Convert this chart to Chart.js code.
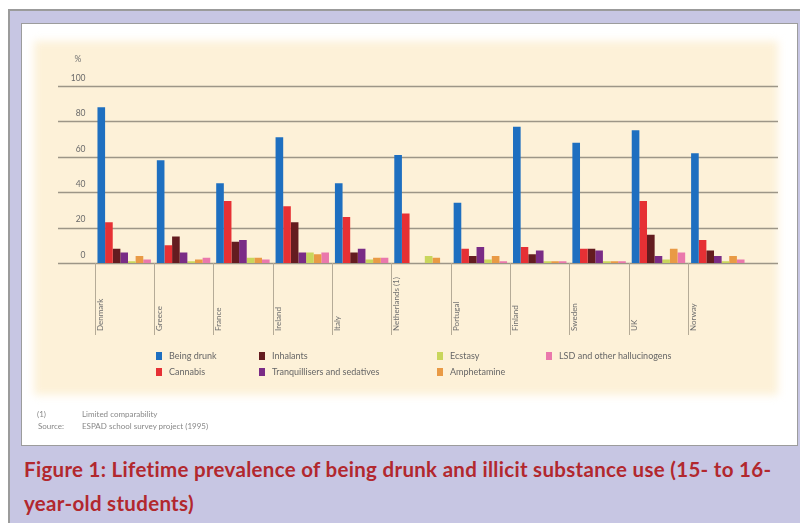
<!DOCTYPE html>
<html>
<head>
<meta charset="utf-8">
<script src="https://cdn.jsdelivr.net/npm/chart.js@4.4.1/dist/chart.umd.min.js"></script>
<style>
  html, body { margin: 0; padding: 0; background: #fff; }
  body { width: 800px; height: 523px; overflow: hidden; position: relative; font-family: Lato, "DejaVu Sans", sans-serif; }
  #frame { position: absolute; left: 8px; top: 9px; width: 790px; height: 512px; background: #c7c6e3;
           border-top: 2px solid #9b9b9b; border-left: 2px solid #9b9b9b; }
  #panel { position: absolute; left: 21px; top: 23px; width: 775px; height: 421px; background: #fff; border: 1px solid #9c9c9c; }
  #cream { position: absolute; left: 34px; top: 41px; width: 744px; height: 354px; background: #fdf1d8; filter: blur(4px); }
  #chart { position: absolute; left: 0; top: 0; filter: blur(0.5px); }
  #legend { position: absolute; left: 0; top: 0; filter: blur(0.5px); }
  .item { position: absolute; font-size: 9px; color: #666; white-space: nowrap; line-height: 10px; }
  .item i { position: absolute; left: 0; top: 1px; width: 6px; height: 8px; }
  .item span { position: absolute; left: 13px; top: 0; }
  #notes { position: absolute; left: 0; top: 0; font-size: 8px; color: #888; filter: blur(0.5px); }
  #notes div { position: absolute; white-space: nowrap; }
  #caption { position: absolute; left: 24px; top: 452px; width: 776px; font-weight: bold; font-size: 20.5px;
             letter-spacing: 0.3px; line-height: 34px; color: #b2282e; white-space: nowrap; }
</style>
</head>
<body>
<div id="frame"></div>
<div id="panel"></div>
<div id="cream"></div>
<canvas id="chart" width="800" height="400"></canvas>
<div id="legend"></div>
<div id="notes">
  <div style="left:37px; top:409px;">(1)</div>
  <div style="left:82px; top:409px;">Limited comparability</div>
  <div style="left:38px; top:421px;">Source:</div>
  <div style="left:82px; top:421px;">ESPAD school survey project (1995)</div>
</div>
<div id="caption">Figure 1: Lifetime prevalence of being drunk and illicit substance use (15- to 16-<br>year-old students)</div>

<script>
// Countries surveyed
const countries = ['Denmark', 'Greece', 'France', 'Ireland', 'Italy', 'Netherlands (1)',
                   'Portugal', 'Finland', 'Sweden', 'UK', 'Norway'];

// Lifetime prevalence, % of 15- to 16-year-old students
const beingDrunk     = [88, 58, 45, 71, 45, 61, 34, 77, 68, 75, 62];
const cannabis       = [23, 10, 35, 32, 26, 28,  8,  9,  8, 35, 13];
const inhalants      = [ 8, 15, 12, 23,  6, null, 4,  5,  8, 16,  7];
const tranquillisers = [ 6,  6, 13,  6,  8, null, 9,  7,  7,  4,  4];
const ecstasy        = [ 1,  1,  3,  6,  2,  4,  2,  1,  1,  2,  1];
const amphetamine    = [ 4,  2,  3,  5,  3,  3,  4,  1,  1,  8,  4];
const lsd            = [ 2,  3,  2,  6,  3, null, 1,  1,  1,  6,  2];

// Value axis ticks
const yTicks = [0, 20, 40, 60, 80, 100];

const seriesNames = ['Being drunk', 'Cannabis', 'Inhalants', 'Tranquillisers and sedatives',
                     'Ecstasy', 'Amphetamine', 'LSD and other hallucinogens'];
const seriesData = [beingDrunk, cannabis, inhalants, tranquillisers, ecstasy, amphetamine, lsd];
const seriesColors = ['#1e6fc0', '#e63034', '#641c20', '#7a2c86', '#c9d65c', '#e99a45', '#ea78ac'];

// Long horizontal rules, hanging category dividers, vertical country names and the % unit
const decorations = {
  id: 'decorations',
  beforeDatasetsDraw(chart) {
    const ctx = chart.ctx;
    const y = chart.scales.y;
    ctx.save();
    ctx.strokeStyle = '#9d9687';
    ctx.lineWidth = 1.3;
    yTicks.forEach(v => {
      const py = Math.round(y.getPixelForValue(v)) + 0.5;
      ctx.beginPath();
      ctx.moveTo(58, py);
      ctx.lineTo(778, py);
      ctx.stroke();
    });
    ctx.restore();
  },
  afterDraw(chart) {
    const ctx = chart.ctx;
    const x = chart.scales.x;
    const y = chart.scales.y;
    const base = y.getPixelForValue(0);
    const step = x.getPixelForValue(1) - x.getPixelForValue(0);
    ctx.save();
    ctx.strokeStyle = '#b5ab97';
    ctx.lineWidth = 1;
    countries.forEach((c, i) => {
      const left = Math.round(x.getPixelForValue(i) - step / 2) + 0.5;
      ctx.beginPath();
      ctx.moveTo(left, base);
      ctx.lineTo(left, base + 72);
      ctx.stroke();
      ctx.save();
      ctx.translate(left + 5, base + 68);
      ctx.rotate(-Math.PI / 2);
      ctx.font = '8px Lato, "DejaVu Sans", sans-serif';
      ctx.fillStyle = '#6f6f6f';
      ctx.textAlign = 'left';
      ctx.textBaseline = 'middle';
      ctx.fillText(c, 0, 0);
      ctx.restore();
    });
    ctx.font = '8.5px Lato, "DejaVu Sans", sans-serif';
    ctx.fillStyle = '#707070';
    ctx.textAlign = 'center';
    ctx.textBaseline = 'middle';
    ctx.fillText('%', 78, y.getPixelForValue(100) - 27);
    ctx.restore();
  }
};

const chart = new Chart(document.getElementById('chart'), {
  type: 'bar',
  data: {
    labels: countries,
    datasets: seriesNames.map((name, i) => ({
      label: name,
      data: seriesData[i],
      backgroundColor: seriesColors[i],
      borderWidth: 0,
      barPercentage: 1.0,
      categoryPercentage: 0.9
    }))
  },
  options: {
    responsive: false,
    animation: false,
    layout: { padding: { left: 64.5, right: 52.5, top: 86, bottom: 137 } },
    plugins: { legend: { display: false }, tooltip: { enabled: false } },
    scales: {
      x: { display: false },
      y: {
        min: 0, max: 100,
        afterFit(scale) { scale.width = 30; },
        afterBuildTicks(scale) { scale.ticks = yTicks.map(v => ({ value: v })); },
        border: { display: false },
        grid: { display: false, drawTicks: false },
        ticks: {
          padding: 9,
          labelOffset: -8,
          color: '#6a6a6a',
          font: { family: 'Lato, "DejaVu Sans", sans-serif', size: 8.5 }
        }
      }
    }
  },
  plugins: [decorations]
});

// Two-row legend laid out in four columns, built from the chart's datasets
const legendCols = [156, 259, 437, 546];
const legendRows = [351, 367];
const legend = document.getElementById('legend');
chart.data.datasets.forEach((ds, i) => {
  const item = document.createElement('div');
  item.className = 'item';
  item.style.left = legendCols[Math.floor(i / 2)] + 'px';
  item.style.top = legendRows[i % 2] + 'px';
  const sw = document.createElement('i');
  sw.style.background = ds.backgroundColor;
  const tx = document.createElement('span');
  tx.textContent = ds.label;
  item.appendChild(sw);
  item.appendChild(tx);
  legend.appendChild(item);
});
</script>
</body>
</html>
